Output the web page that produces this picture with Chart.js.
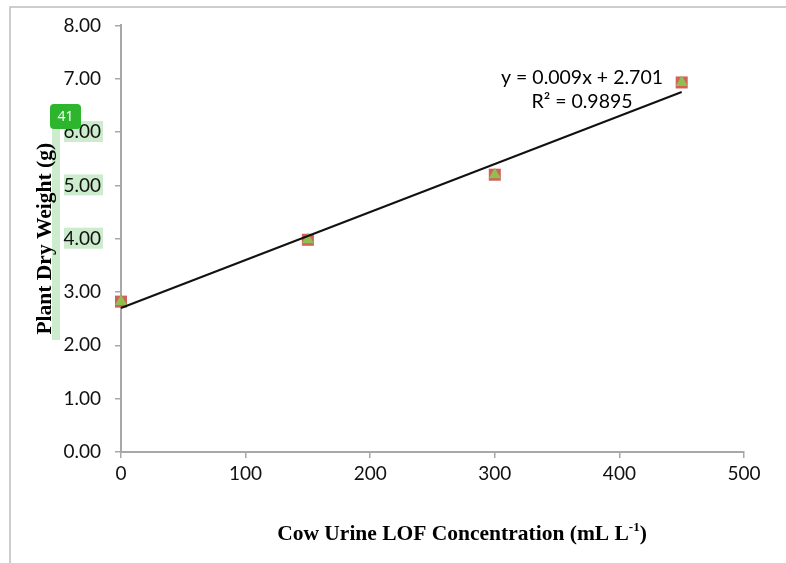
<!DOCTYPE html>
<html><head><meta charset="utf-8">
<script src="https://cdn.jsdelivr.net/npm/chart.js@4.4.1/dist/chart.umd.min.js"></script>
<style>html,body{margin:0;padding:0;background:#fff}#wrap{width:786px;height:563px}</style>
</head><body><div id="wrap"><canvas id="c" width="786" height="563"></canvas></div>
<script>
// ---- data ----
const concentrations = [0, 150, 300, 450];
const dryWeight = [2.82, 3.98, 5.20, 6.93];
const trendX = [0, 450];
const trendY = [2.701, 6.751];
const xTickValues = [0, 100, 200, 300, 400, 500];
const yTickValues = [0, 1, 2, 3, 4, 5, 6, 7, 8];
const equationText = 'y = 0.009x + 2.701';
const r2Text = 'R² = 0.9895';
const yTitleText = 'Plant Dry Weight (g)';
const xTitleMain = 'Cow Urine LOF Concentration (mL L';
const xTitleSup = '-1';
const xTitleEnd = ')';
const badgeText = '41';

const pts = concentrations.map((x, i) => ({x, y: dryWeight[i]}));
const trend = trendX.map((x, i) => ({x, y: trendY[i]}));

const TICK_FONT = {family: 'Lato', size: 19};
const AXIS_COLOR = '#a8a8a8';

const decor = {
  id: 'decor',
  beforeDraw(chart) {
    const ctx = chart.ctx;
    ctx.save();
    ctx.fillStyle = '#fff';
    ctx.fillRect(0, 0, chart.width, chart.height);
    ctx.strokeStyle = '#bdbdbd';
    ctx.lineWidth = 1.5;
    ctx.beginPath();
    ctx.moveTo(10, 563); ctx.lineTo(10, 7); ctx.lineTo(786, 7);
    ctx.stroke();
    ctx.fillStyle = '#cdeccd';
    ctx.fillRect(52, 120, 8, 220);
    const y = chart.scales.y;
    [6, 5, 4].forEach(v => {
      const py = y.getPixelForValue(v);
      ctx.fillRect(64, py - 11, 39, 21);
    });
    ctx.restore();
  },
  afterDraw(chart) {
    const ctx = chart.ctx;
    ctx.save();
    const mainFont = 'bold 21.5px "Liberation Serif"';
    const supFont = 'bold 13px "Liberation Serif"';
    ctx.fillStyle = '#000';
    ctx.textBaseline = 'alphabetic';
    ctx.font = mainFont;
    const w1 = ctx.measureText(xTitleMain).width;
    const w3 = ctx.measureText(xTitleEnd).width;
    ctx.font = supFont;
    const w2 = ctx.measureText(xTitleSup).width;
    const total = w1 + w2 + w3;
    const x0 = 462 - total / 2;
    const base = 540;
    ctx.font = mainFont; ctx.textAlign = 'left';
    ctx.fillText(xTitleMain, x0, base);
    ctx.font = supFont;
    ctx.fillText(xTitleSup, x0 + w1, base - 9);
    ctx.font = mainFont;
    ctx.fillText(xTitleEnd, x0 + w1 + w2, base);
    ctx.font = '19.5px Lato';
    ctx.textAlign = 'center';
    ctx.textBaseline = 'middle';
    ctx.fillStyle = '#000';
    ctx.fillText(equationText, 582, 78);
    ctx.fillText(r2Text, 582, 102);
    ctx.fillStyle = '#2eb52e';
    ctx.beginPath();
    ctx.roundRect(50, 104, 31, 25, 4);
    ctx.fill();
    ctx.fillStyle = '#fff';
    ctx.font = '14px "Open Sans"';
    ctx.fillText(badgeText, 65.5, 117);
    ctx.restore();
  }
};

new Chart(document.getElementById('c'), {
  type: 'scatter',
  data: {
    datasets: [
      {type: 'line', data: trend, borderColor: '#111', borderWidth: 2, pointRadius: 0, fill: false, order: 0, clip: false},
      {data: pts, pointStyle: 'triangle', pointRadius: 7, backgroundColor: '#92bd4f', borderWidth: 0, order: 1, clip: false},
      {data: pts, pointStyle: 'rect', pointRadius: 8.5, backgroundColor: '#d2605c', borderWidth: 0, order: 2, clip: false}
    ]
  },
  options: {
    responsive: false,
    animation: false,
    devicePixelRatio: 1,
    layout: {padding: {top: 22, right: 42, left: 0, bottom: 0}},
    plugins: {legend: {display: false}, tooltip: {enabled: false}},
    scales: {
      x: {
        type: 'linear', min: 0, max: 500,
        afterBuildTicks: s => { s.ticks = xTickValues.map(v => ({value: v})); },
        afterFit: s => { s.height = 111; },
        ticks: {font: TICK_FONT, color: '#111', padding: 4},
        grid: {drawOnChartArea: false, drawTicks: true, tickLength: 6, color: AXIS_COLOR, lineWidth: 1.5},
        border: {color: AXIS_COLOR, width: 2}
      },
      y: {
        min: 0, max: 8,
        afterBuildTicks: s => { s.ticks = yTickValues.map(v => ({value: v})); },
        afterFit: s => { s.width = 121; },
        ticks: {font: TICK_FONT, color: '#111', padding: 14, callback: v => Number(v).toFixed(2)},
        grid: {drawOnChartArea: false, drawTicks: true, tickLength: 6, color: AXIS_COLOR, lineWidth: 1.5},
        border: {color: AXIS_COLOR, width: 2},
        title: {display: true, text: yTitleText, color: '#000', font: {family: 'Liberation Serif', size: 21.5, weight: 'bold'}, padding: {top: 33, bottom: 0}}
      }
    }
  },
  plugins: [decor]
});
</script></body></html>
